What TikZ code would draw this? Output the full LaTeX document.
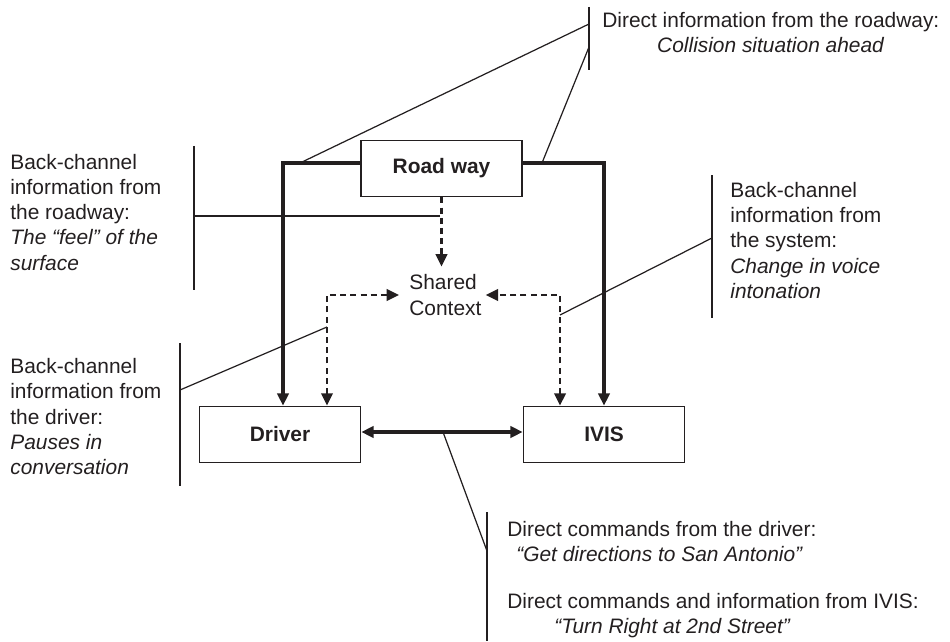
\documentclass[tikz,border=0pt]{standalone}
\usepackage{fontspec}
\setmainfont{Liberation Sans}
\usetikzlibrary{arrows.meta}
\definecolor{ink}{RGB}{35,31,32}
\begin{document}
\begin{tikzpicture}[x=0.02cm,y=-0.02cm,
  every node/.style={font=\fontsize{11.9}{14.23}\selectfont, text=ink},
  box/.style={draw=ink, line width=1pt, minimum width=3.22cm, minimum height=1.12cm,
    inner sep=0pt, font=\fontsize{11.9}{14.23}\selectfont\bfseries},
  txt/.style={align=left, anchor=base west, inner sep=0pt},
  tip/.style={Triangle[length=7pt,width=6.5pt]},
  thinline/.style={draw=ink, line width=0.7pt},
  thickline/.style={draw=ink, line width=1.9pt, -{Triangle[length=7pt,width=6.5pt]}},
  dblline/.style={draw=ink, line width=1.9pt, {Triangle[length=7pt,width=6.5pt]}-{Triangle[length=7pt,width=6.5pt]}},
  dashline/.style={draw=ink, line width=1.4pt, dash pattern=on 3.4pt off 2.4pt},
]
\useasboundingbox (0,0) rectangle (950,642);

% main nodes
\node[box] (road) at (441.5,168.5) {Road way};
\node[box] (driver) at (280,434.5) {Driver};
\node[box] (ivis) at (604,434.5) {IVIS};
\node[txt] (shared) at (409,315) {Shared\\Context};

% solid flows
\draw[thickline] ([yshift=0.11cm]road.west) -| ([xshift=0.06cm]driver.north);
\draw[thickline] ([yshift=0.11cm]road.east) -| (ivis.north);
\draw[dblline] ([yshift=0.05cm]driver.east) -- ([yshift=0.05cm]ivis.west);

% dashed flows
\draw[dashline, -{Triangle[length=7pt,width=6.5pt]}] (road.south) -- ([yshift=0.16cm]road.south |- shared.north);
\draw[dashline, {Triangle[length=7pt,width=6.5pt]}-{Triangle[length=7pt,width=6.5pt]}]
  ([xshift=0.94cm]driver.north) |- ([xshift=-0.2cm]shared.west);
\draw[dashline, {Triangle[length=7pt,width=6.5pt]}-{Triangle[length=7pt,width=6.5pt]}]
  ([xshift=-0.88cm]ivis.north) |- ([xshift=0.08cm]shared.east);

% callout: direct information from the roadway
\coordinate (t1) at (589,7);   \coordinate (t2) at (589,70);
\coordinate (ta) at (589,24);  \coordinate (tb) at (589,47);
\coordinate (la) at (300,163); \coordinate (lb) at (542,163);
\draw[thinline] (t1) -- (t2);
\draw[thinline] (la) -- (ta);
\draw[thinline] (lb) -- (tb);
\node[txt, align=center] (dirroad) at (602,53)
  {Direct information from the roadway:\\\textit{Collision situation ahead}};

% callout: back-channel from roadway
\coordinate (u1) at (194,146); \coordinate (u2) at (194,290);
\coordinate (ua) at (194,216); \coordinate (ub) at (440,216);
\draw[thinline] (u1) -- (u2);
\draw[thinline] (ua) -- (ub);
\node[txt] (bcroad) at (10,270)
  {Back-channel\\information from\\the roadway:\\\textit{The “feel” of the}\\\textit{surface}};

% callout: back-channel from system
\coordinate (r1) at (712,175); \coordinate (r2) at (712,318);
\coordinate (ra) at (712,238); \coordinate (rb) at (560,315);
\draw[thinline] (r1) -- (r2);
\draw[thinline] (ra) -- (rb);
\node[txt] (bcsys) at (730,298)
  {Back-channel\\information from\\the system:\\\textit{Change in voice}\\\textit{intonation}};

% callout: back-channel from driver
\coordinate (d1) at (180,343); \coordinate (d2) at (180,486);
\coordinate (da) at (180,390); \coordinate (db) at (327,327);
\draw[thinline] (d1) -- (d2);
\draw[thinline] (da) -- (db);
\node[txt] (bcdrv) at (10,474)
  {Back-channel\\information from\\the driver:\\\textit{Pauses in}\\\textit{conversation}};

% callout: direct commands
\coordinate (c1) at (487,512); \coordinate (c2) at (487,641);
\coordinate (ca) at (443,432); \coordinate (cb) at (487,551);
\draw[thinline] (c1) -- (c2);
\draw[thinline] (ca) -- (cb);
\node[txt] (cmds) at (507,633)
  {Direct commands from the driver:\\
   \hspace*{0.18cm}\textit{“Get directions to San Antonio”}\\[0.44cm]
   Direct commands and information from IVIS:\\
   \hspace*{0.94cm}\textit{“Turn Right at 2nd Street”}};
\end{tikzpicture}
\end{document}
